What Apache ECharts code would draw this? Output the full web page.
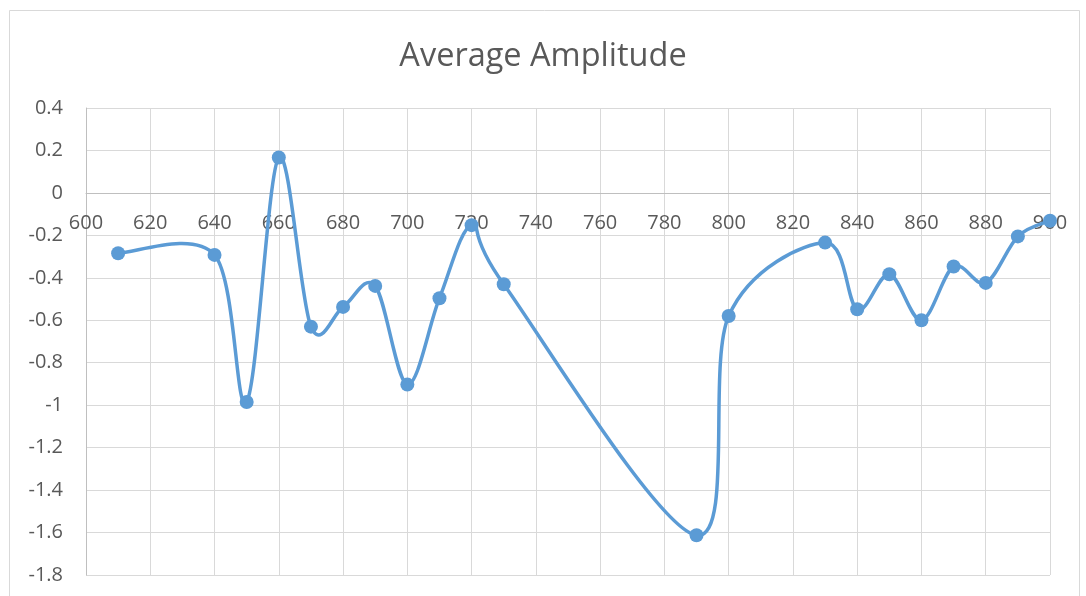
<!DOCTYPE html>
<html>
<head>
<meta charset="utf-8">
<script src="https://cdn.jsdelivr.net/npm/echarts@6/dist/echarts.min.js"></script>
<style>
html,body{margin:0;padding:0;background:#fff;}
#chart{width:1086px;height:596px;}
</style>
</head>
<body>
<div id="chart"></div>
<script>
const wavelengths = [610, 640, 650, 660, 670, 680, 690, 700, 710, 720, 730, 790, 800, 830, 840, 850, 860, 870, 880, 890, 900];
const amplitudes = [-0.284, -0.292, -0.985, 0.167, -0.63, -0.537, -0.438, -0.903, -0.496, -0.152, -0.43, -1.613, -0.58, -0.234, -0.548, -0.383, -0.6, -0.347, -0.424, -0.205, -0.131];
const titleText = 'Average Amplitude';

const points = wavelengths.map((x, i) => [x, amplitudes[i]]);
const chart = echarts.init(document.getElementById('chart'));
const font = '"Open Sans", "Liberation Sans", sans-serif';
const lineColor = '#5B9BD5';
const yMin = -1.8, yMax = 0.4;

// Excel-style smoothed line: Catmull-Rom segments (tangent = (next - prev) / 6)
function renderSmooth(params, api) {
  if (params.dataIndex !== 0) return null;
  const c = points.map(p => api.coord(p));
  const n = c.length;
  const children = [];
  for (let i = 0; i < n - 1; i++) {
    const p0 = c[Math.max(i - 1, 0)], p1 = c[i], p2 = c[i + 1], p3 = c[Math.min(i + 2, n - 1)];
    children.push({
      type: 'bezierCurve',
      shape: {
        x1: p1[0], y1: p1[1], x2: p2[0], y2: p2[1],
        cpx1: p1[0] + (p2[0] - p0[0]) / 6, cpy1: p1[1] + (p2[1] - p0[1]) / 6,
        cpx2: p2[0] - (p3[0] - p1[0]) / 6, cpy2: p2[1] - (p3[1] - p1[1]) / 6
      },
      style: {fill: null, stroke: lineColor, lineWidth: 3.5, lineCap: 'round'}
    });
  }
  return {type: 'group', children: children};
}

chart.setOption({
  animation: false,
  backgroundColor: '#fff',
  title: {
    text: titleText, left: 'center', top: 35,
    textStyle: {fontFamily: font, fontSize: 32.5, fontWeight: 'normal', color: '#595959'}
  },
  graphic: [{
    type: 'rect', silent: true,
    shape: {x: 9.5, y: 10.5, width: 1070, height: 600},
    style: {fill: 'none', stroke: '#d9d9d9', lineWidth: 1}
  }],
  grid: {left: 86, right: 36, top: 108, bottom: 21, outerBoundsMode: 'none', containLabel: false},
  xAxis: {
    type: 'value', min: 600, max: 900, interval: 20, position: 'bottom', offset: 0,
    axisLine: {onZero: false, lineStyle: {color: '#bfbfbf', width: 1}},
    axisTick: {show: false},
    axisLabel: {margin: 20, fontFamily: font, fontSize: 20, color: '#595959'},
    splitLine: {show: true, lineStyle: {color: '#d9d9d9', width: 1}}
  },
  yAxis: {
    type: 'value', min: yMin, max: yMax, interval: 0.2,
    axisLine: {show: true, onZero: false, lineStyle: {color: '#bfbfbf', width: 1}},
    axisTick: {show: false},
    axisLabel: {
      margin: 23, fontFamily: font, fontSize: 20, color: '#595959',
      formatter: v => String(Math.round(v * 10) / 10)
    },
    splitLine: {show: true, lineStyle: {color: '#d9d9d9', width: 1}}
  },
  series: [{
    type: 'custom', data: points, renderItem: renderSmooth, clip: false, z: 2,
    encode: {x: 0, y: 1}
  }, {
    type: 'scatter', data: points, symbol: 'circle', symbolSize: 14, z: 3,
    itemStyle: {color: lineColor, opacity: 1}
  }]
});

// Place the x axis on the y = 0 line (Excel "horizontal axis crosses at 0")
const yZero = chart.convertToPixel({yAxisIndex: 0}, 0);
const yBottom = chart.convertToPixel({yAxisIndex: 0}, yMin);
chart.setOption({xAxis: {offset: yZero - yBottom}});
</script>
</body>
</html>
